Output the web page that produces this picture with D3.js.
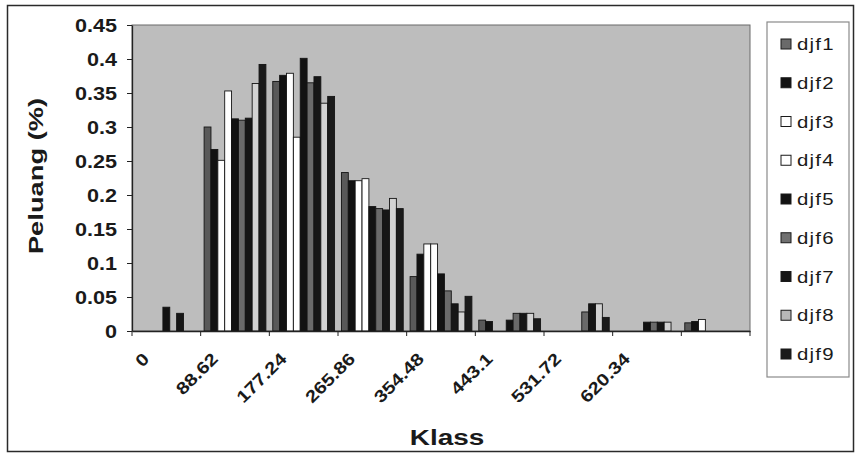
<!DOCTYPE html>
<html>
<head>
<meta charset="utf-8">
<script src="https://cdn.jsdelivr.net/npm/d3@7"></script>
<style>
  html, body { margin: 0; padding: 0; background: #ffffff; }
  svg { display: block; }
</style>
</head>
<body>
<svg id="chart" width="859" height="458"></svg>
<script>
// ---- data ----
const categories = ["0", "88.62", "177.24", "265.86", "354.48", "443.1", "531.72", "620.34", "708.96"];
const xTickLabels = ["0", "88.62", "177.24", "265.86", "354.48", "443.1", "531.72", "620.34", ""];
const seriesNames = ["djf1", "djf2", "djf3", "djf4", "djf5", "djf6", "djf7", "djf8", "djf9"];
const djf1 = [0, 0.300, 0.367, 0.233, 0.080, 0.016, 0, 0, 0.012];
const djf2 = [0, 0.267, 0.376, 0.221, 0.113, 0.014, 0, 0, 0.014];
const djf3 = [0, 0.251, 0.379, 0.221, 0.128, 0, 0, 0, 0.017];
const djf4 = [0, 0.353, 0.285, 0.224, 0.128, 0, 0, 0, 0];
const djf5 = [0.035, 0.312, 0.401, 0.183, 0.084, 0.016, 0, 0.013, 0];
const djf6 = [0, 0.310, 0.365, 0.180, 0.059, 0.026, 0.028, 0.013, 0];
const djf7 = [0.026, 0.313, 0.374, 0.178, 0.040, 0.026, 0.040, 0.013, 0];
const djf8 = [0, 0.364, 0.335, 0.195, 0.028, 0.026, 0.040, 0.013, 0];
const djf9 = [0, 0.392, 0.345, 0.180, 0.051, 0.018, 0.020, 0, 0];
const seriesValues = [djf1, djf2, djf3, djf4, djf5, djf6, djf7, djf8, djf9];
const yTicks = [0, 0.05, 0.1, 0.15, 0.2, 0.25, 0.3, 0.35, 0.4, 0.45];
const yTickLabels = ["0", "0.05", "0.1", "0.15", "0.2", "0.25", "0.3", "0.35", "0.4", "0.45"];
const barColors = ["#595959", "#121212", "#ffffff", "#ffffff", "#121212", "#6a6a6a", "#161616", "#d2d2d2", "#1a1a1a"];
const legendColors = ["#6a6a6a", "#121212", "#ffffff", "#ffffff", "#121212", "#707070", "#161616", "#b8b8b8", "#1a1a1a"];
const xTitle = "Klass";
const yTitle = "Peluang (%)";

// ---- layout ----
const svg = d3.select("#chart");
const plot = { left: 132, right: 750, top: 25, bottom: 331 };
const FONT = "'Liberation Sans', Arial, sans-serif";

// outer frame
svg.append("rect").attr("x", 7.5).attr("y", 5.5).attr("width", 846).attr("height", 446)
  .attr("fill", "#ffffff").attr("stroke", "#2a2a2a").attr("stroke-width", 1.5);

const x0 = d3.scaleBand().domain(categories).range([plot.left, plot.right])
  .paddingInner(0.1).paddingOuter(0.05);
const x1 = d3.scaleBand().domain(seriesNames).range([0, x0.bandwidth()]).padding(0);
const y = d3.scaleLinear().domain([0, 0.45]).range([plot.bottom, plot.top]);

// plot area
svg.append("rect").attr("x", plot.left).attr("y", plot.top)
  .attr("width", plot.right - plot.left).attr("height", plot.bottom - plot.top)
  .attr("fill", "#bdbdbd").attr("stroke", "#6a6a6a").attr("stroke-width", 1);

// bars
const barData = [];
seriesValues.forEach((vals, s) => {
  vals.forEach((v, c) => {
    if (v > 0) barData.push({ cat: categories[c], series: seriesNames[s], value: v, s });
  });
});
svg.append("g").selectAll("rect").data(barData).enter().append("rect")
  .attr("x", d => x0(d.cat) + x1(d.series))
  .attr("y", d => y(d.value))
  .attr("width", x1.bandwidth())
  .attr("height", d => y(0) - y(d.value))
  .attr("fill", d => barColors[d.s])
  .attr("stroke", "#141414")
  .attr("stroke-width", 0.9);

// y axis
const yAxis = d3.axisLeft(y).tickValues(yTicks).tickFormat((d, i) => yTickLabels[i])
  .tickSize(5).tickSizeOuter(0);
const gy = svg.append("g").attr("transform", `translate(${plot.left},0)`).call(yAxis);
gy.select(".domain").attr("stroke", "#222").attr("stroke-width", 1.3);
gy.selectAll(".tick line").attr("stroke", "#222");
gy.selectAll(".tick text")
  .attr("x", 0).attr("dy", "0.35em")
  .attr("transform", "translate(-15,0) scale(1.2,1)")
  .attr("font-family", FONT).attr("font-weight", "bold").attr("font-size", 18)
  .attr("fill", "#1a1a1a").attr("text-anchor", "end");

// x axis: line + boundary ticks
const xAxis = d3.axisBottom(x0).tickSize(0).tickFormat("");
const gx = svg.append("g").attr("transform", `translate(0,${plot.bottom})`).call(xAxis);
gx.select(".domain").attr("stroke", "#222").attr("stroke-width", 1.3);
gx.selectAll(".tick").remove();
const step = x0.step();
const bounds = categories.map((c, i) => x0(c) - x0.paddingInner() * step / 2).concat([plot.right]);
gx.selectAll("line.bt").data(bounds).enter().append("line").attr("class", "bt")
  .attr("x1", d => d).attr("x2", d => d).attr("y1", 0).attr("y2", 5)
  .attr("stroke", "#222").attr("stroke-width", 1);

// x tick labels (rotated)
svg.append("g").selectAll("text").data(categories).enter().append("text")
  .attr("transform", (d, i) => `translate(${x0(d) + x0.bandwidth() / 2 - 16},${plot.bottom + 29}) rotate(-45) scale(1.2,1)`)
  .attr("text-anchor", "end")
  .attr("font-family", FONT).attr("font-weight", "bold").attr("font-size", 17)
  .attr("fill", "#1a1a1a")
  .text((d, i) => xTickLabels[i]);

// axis titles
svg.append("text")
  .attr("transform", "translate(447,445) scale(1.27,1)")
  .attr("text-anchor", "middle")
  .attr("font-family", FONT).attr("font-weight", "bold").attr("font-size", 22)
  .attr("fill", "#1a1a1a").text(xTitle);
svg.append("text")
  .attr("transform", "translate(43,176) rotate(-90) scale(1.3,1)")
  .attr("text-anchor", "middle")
  .attr("font-family", FONT).attr("font-weight", "bold").attr("font-size", 21)
  .attr("fill", "#1a1a1a").text(yTitle);

// legend
const lg = svg.append("g");
lg.append("rect").attr("x", 767).attr("y", 22).attr("width", 82).attr("height", 355)
  .attr("fill", "#ffffff").attr("stroke", "#8a8a8a").attr("stroke-width", 1.2);
const legendY = d3.scalePoint().domain(seriesNames).range([44, 354]);
const items = lg.selectAll("g.item").data(seriesNames).enter().append("g").attr("class", "item")
  .attr("transform", d => `translate(781,${legendY(d)})`);
items.append("rect").attr("x", 0).attr("y", -5).attr("width", 10).attr("height", 10)
  .attr("fill", (d, i) => legendColors[i]).attr("stroke", "#1a1a1a").attr("stroke-width", 1);
items.append("text")
  .attr("transform", "translate(16,0) scale(1.2,1)")
  .attr("dy", "0.36em")
  .attr("font-family", FONT).attr("font-size", 17).attr("letter-spacing", 1)
  .attr("fill", "#1a1a1a").text(d => d);
</script>
</body>
</html>
